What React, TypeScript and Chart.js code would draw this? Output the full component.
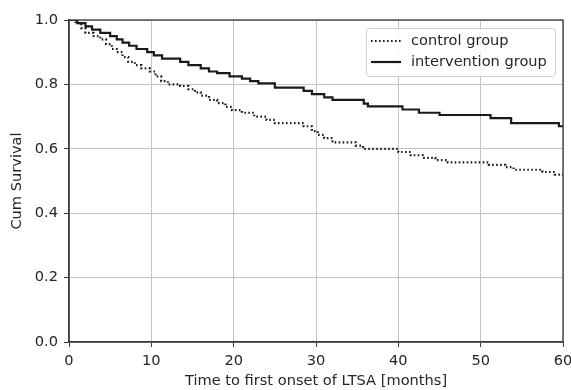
import React, { useEffect, useRef } from "react";
import { Chart, registerables } from "chart.js";

Chart.register(...registerables);

const seriesLabels = ["control group", "intervention group"];

const controlTimes = [0, 0.8, 1.5, 2, 3, 3.8, 4.5, 5.2, 5.8, 6.5, 7.2, 8, 8.8, 9.8, 10.5, 11.2, 12, 13.5, 14.5, 15.3, 16, 17, 18, 19, 19.8, 21, 22.5, 24, 25, 28.5, 29.5, 30.2, 31, 32, 34.8, 35.7, 40, 41.5, 43, 44.5, 46, 51, 53, 54, 57.5, 59, 60];
const controlSurv = [1.0, 0.99, 0.975, 0.96, 0.95, 0.94, 0.925, 0.91, 0.9, 0.885, 0.87, 0.86, 0.85, 0.84, 0.825, 0.81, 0.8, 0.795, 0.785, 0.775, 0.765, 0.752, 0.742, 0.73, 0.72, 0.712, 0.7, 0.69, 0.68, 0.67, 0.655, 0.643, 0.633, 0.62, 0.61, 0.6, 0.59, 0.58, 0.572, 0.565, 0.558, 0.55, 0.543, 0.535, 0.528, 0.52, 0.515];

const interventionTimes = [0, 1, 2, 2.8, 3.8, 5, 5.8, 6.5, 7.3, 8.2, 9.5, 10.3, 11.3, 13.5, 14.5, 16, 17, 18, 19.5, 21, 22, 23, 25, 28.5, 29.5, 31, 32, 35.8, 36.3, 40.5, 42.5, 45, 51.2, 53.7, 59.5, 60];
const interventionSurv = [1.0, 0.99, 0.98, 0.97, 0.96, 0.95, 0.94, 0.93, 0.92, 0.91, 0.9, 0.89, 0.88, 0.87, 0.86, 0.85, 0.84, 0.835, 0.825, 0.818, 0.81, 0.803, 0.79, 0.78, 0.77, 0.76, 0.752, 0.74, 0.732, 0.722, 0.712, 0.705, 0.695, 0.68, 0.67, 0.67];

const xTicks = [0, 10, 20, 30, 40, 50, 60];
const yTicks = [0, 0.2, 0.4, 0.6, 0.8, 1.0];

const FONT = "'DejaVu Sans', sans-serif";
const FS = 14.6;
const TEXT = "#262626";

const framePlugin = {
  id: "frame",
  afterDraw(chart: any) {
    const { ctx, chartArea: a } = chart;
    ctx.save();
    ctx.strokeStyle = "#3a3a3a";
    ctx.lineWidth = 1.3;
    ctx.strokeRect(a.left, a.top, a.right - a.left, a.bottom - a.top);
    // legend
    const x0 = 366, y0 = 28, w = 189, h = 48;
    ctx.fillStyle = "rgba(255,255,255,0.85)";
    ctx.strokeStyle = "#d0d0d0";
    ctx.lineWidth = 1;
    ctx.beginPath();
    (ctx as any).roundRect(x0 + 0.5, y0 + 0.5, w, h, 3);
    ctx.fill();
    ctx.stroke();
    chart.data.datasets.forEach((ds: any, i: number) => {
      const y = y0 + 13 + i * 21;
      ctx.beginPath();
      ctx.strokeStyle = ds.borderColor;
      ctx.lineWidth = ds.borderWidth;
      ctx.setLineDash(ds.borderDash || []);
      ctx.moveTo(371, y);
      ctx.lineTo(401, y);
      ctx.stroke();
      ctx.setLineDash([]);
      ctx.fillStyle = TEXT;
      ctx.font = `${FS}px ${FONT}`;
      ctx.textBaseline = "middle";
      ctx.textAlign = "left";
      ctx.fillText(ds.label, 411, y);
    });
    ctx.restore();
  },
};

export default function App() {
  const ref = useRef<HTMLCanvasElement>(null);
  useEffect(() => {
    document.body.style.margin = "0";
    const toPts = (t: number[], s: number[]) => t.map((x, i) => ({ x, y: s[i] }));
    const chart = new Chart(ref.current!, {
      type: "line",
      data: {
        datasets: [
          {
            label: seriesLabels[0],
            data: toPts(controlTimes, controlSurv),
            borderColor: "#1a1a1a",
            borderWidth: 2.2,
            borderDash: [1.6, 2.4],
            stepped: true,
            pointRadius: 0,
            fill: false,
          },
          {
            label: seriesLabels[1],
            data: toPts(interventionTimes, interventionSurv),
            borderColor: "#1a1a1a",
            borderWidth: 2.2,
            stepped: true,
            pointRadius: 0,
            fill: false,
          },
        ],
      },
      options: {
        animation: false,
        responsive: false,
        devicePixelRatio: 1,
        layout: { padding: { top: 20, right: 8, left: 0, bottom: 0 } },
        plugins: { legend: { display: false }, tooltip: { enabled: false } },
        scales: {
          x: {
            type: "linear",
            min: 0,
            max: 60,
            afterFit: (s: any) => { s.height = 48; s.paddingLeft = 0; s.paddingRight = 0; },
            afterBuildTicks: (s: any) => { s.ticks = xTicks.map((v) => ({ value: v })); },
            ticks: { font: { family: FONT, size: FS }, color: TEXT, padding: 5, maxRotation: 0 },
            grid: { color: "#c4c4c4", lineWidth: 1, tickLength: 5, tickColor: "#3a3a3a" },
            border: { color: "#3a3a3a", width: 1.3 },
            title: {
              display: true,
              text: "Time to first onset of LTSA [months]",
              font: { family: FONT, size: FS },
              color: TEXT,
              padding: { top: 0, bottom: 0 },
            },
          },
          y: {
            min: 0,
            max: 1,
            afterFit: (s: any) => { s.width = 69; s.paddingTop = 0; s.paddingBottom = 0; },
            afterBuildTicks: (s: any) => { s.ticks = yTicks.map((v) => ({ value: v })); },
            ticks: {
              font: { family: FONT, size: FS },
              color: TEXT,
              padding: 6,
              callback: (v: any) => Number(v).toFixed(1),
            },
            grid: { color: "#c4c4c4", lineWidth: 1, tickLength: 5, tickColor: "#3a3a3a" },
            border: { color: "#3a3a3a", width: 1.3 },
            title: {
              display: true,
              text: "Cum Survival",
              font: { family: FONT, size: FS },
              color: TEXT,
              padding: { top: 8, bottom: 0 },
            },
          },
        },
      },
      plugins: [framePlugin],
    });
    return () => chart.destroy();
  }, []);
  return <canvas ref={ref} width={571} height={390} style={{ display: "block" }} />;
}
